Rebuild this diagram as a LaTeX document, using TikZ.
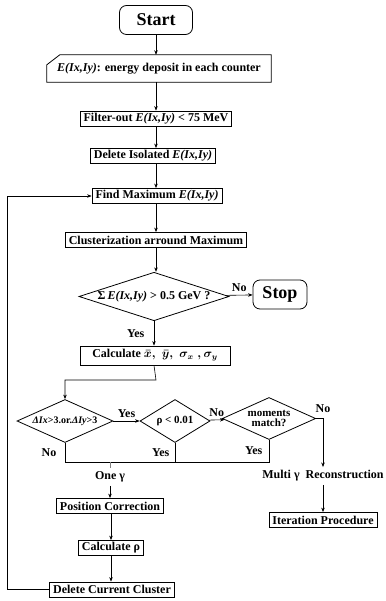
\documentclass[tikz,border=0pt]{standalone}
\usepackage{fontspec}
\setmainfont{Liberation Serif}
\usetikzlibrary{shapes.geometric,arrows.meta}
\begin{document}
\begin{tikzpicture}[x=1pt,y=-1pt,
    font=\fontsize{12}{13}\selectfont\bfseries,
    box/.style={draw,line width=0.8pt,inner xsep=3.5pt,inner ysep=1.5pt,minimum height=15pt},
    term/.style={draw,line width=0.8pt,rounded corners=7pt,inner sep=0pt,
      font=\fontsize{18}{20}\selectfont\bfseries,minimum width=73pt,minimum height=29pt},
    decision/.style={draw,diamond,line width=0.8pt,inner sep=0pt,aspect=3},
    line/.style={line width=0.6pt},
    >={Stealth[length=4.5pt,width=3.5pt]}]
  \useasboundingbox (0,0) rectangle (385,601);
  \node[term] (start) at (156,20) {Start};
  \node[minimum width=224pt,minimum height=27pt,inner sep=0pt] (input) at (159,68.5)
    {\textit{E(Ix,Iy)}: energy deposit in each counter};
  \draw[line width=0.8pt] ([xshift=13pt]input.north west) -- (input.north east)
    -- (input.south east) -- (input.south west) -- ([yshift=-10pt]input.north west) -- cycle;
  \node[box] (filter) at (156,118.5) {Filter-out \textit{E(Ix,Iy)} < 75 MeV};
  \node[box] (isolated) at (153,156) {Delete Isolated \textit{E(Ix,Iy)}};
  \node[box] (findmax) at (157,196) {Find Maximum \textit{E(Ix,Iy)}};
  \node[box] (cluster) at (156,240) {Clusterization arround Maximum};
  \node[decision,minimum width=150pt,minimum height=47pt] (sum) at (154,296.5)
    {Σ\,\textit{E(Ix,Iy)} > 0.5 GeV ?};
  \node[term,minimum width=54pt] (stop) at (280,294.5) {Stop};
  \node[box,minimum width=150pt,minimum height=19pt] (calc) at (155,355.5)
    {Calculate {\boldmath$\bar{x},\;\bar{y},\;\sigma_x\;,\sigma_y$}};
  \node[decision,minimum width=96pt,minimum height=43pt,font=\fontsize{10}{11}\selectfont\bfseries]
    (delta) at (65,421) {\textit{ΔIx}>3.or.\textit{ΔIy}>3};
  \node[decision,minimum width=70pt,minimum height=43pt,font=\fontsize{11}{12}\selectfont\bfseries]
    (rho) at (175,421) {ρ < 0.01};
  \node[decision,minimum width=72pt,minimum height=42pt,align=center,
    font=\fontsize{11}{10.5}\selectfont\bfseries] (moments) at (269,418.5) {moments\\match?};
  \node (multi) at (323,476) {Multi γ\ \ Reconstruction};
  \node[box] (iter) at (323,520) {Iteration Procedure};
  \node (onegamma) at (110,477) {One γ};
  \node[box] (poscorr) at (110,506) {Position Correction};
  \node[box] (calcrho) at (111,548) {Calculate ρ};
  \node[box] (delcur) at (112,589.5) {Delete Current Cluster};
  \coordinate (split) at (156,380);
  \coordinate (join) at (110,462);
  \coordinate (loop) at (7,0);
  % main column
  \begin{scope}[line,->]
    \draw (start) -- (start |- input.north);
    \draw (input.south -| start) -- (start |- filter.north);
    \draw (filter.south -| start) -- (start |- isolated.north);
    \draw (isolated.south -| start) -- (start |- findmax.north);
    \draw (findmax.south -| start) -- (start |- cluster.north);
    \draw (cluster.south -| start) -- (start |- sum.north);
    \draw (sum) -- node[above] {No} (stop);
    \draw (sum) -- node[left=6pt] {Yes} (sum |- calc.north);
    \draw (calc.south -| sum) -- (split) -| (delta);
    \draw (delta) -- node[above] {Yes} (rho);
    \draw (rho) -- node[above] {No} (moments);
    \draw (moments.east) -| node[pos=0.5,above=2pt] {No} (multi.north);
    \draw (multi) -- (iter);
    \draw (onegamma) -- (poscorr);
    \draw (poscorr.south -| calcrho) -- (calcrho);
    \draw (calcrho) -- (calcrho |- delcur.north);
    \draw (delcur.west) -- (delcur.west -| loop) |- (findmax.west);
  \end{scope}
  % merge of the three branches
  \begin{scope}[line]
    \draw (delta.south) -- node[left=5pt] {No} (delta.south |- join)
      -- (moments.south |- join) -- (moments.south);
    \draw (rho.south) -- node[left=2pt] {Yes} (rho.south |- join);
    \draw (moments.south) -- node[left=3pt] {Yes} (moments.south |- join);
    \draw[line width=0.4pt,gray] (join) -- (onegamma);
  \end{scope}
\end{tikzpicture}
\end{document}
